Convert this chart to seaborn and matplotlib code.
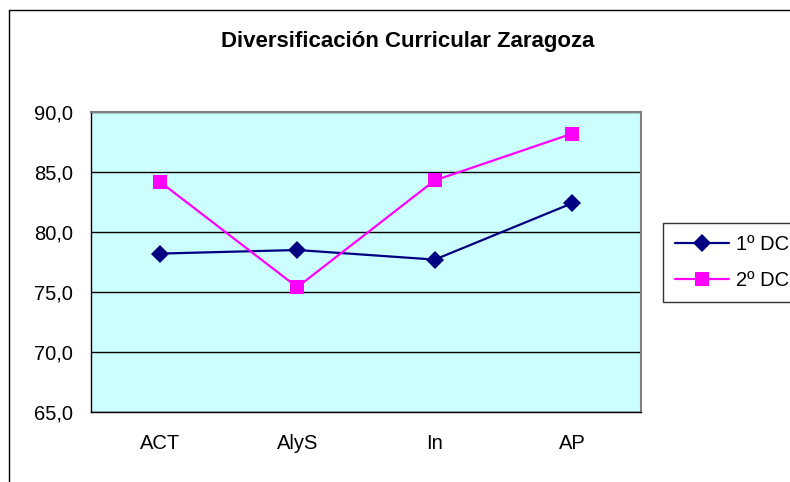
import matplotlib
matplotlib.use("Agg")
import matplotlib.pyplot as plt
from matplotlib.lines import Line2D
from matplotlib.ticker import FixedLocator, FuncFormatter
import seaborn as sns
import pandas as pd

# datos
categorias = ["ACT", "AlyS", "In", "AP"]
dc1 = [78.2, 78.5, 77.7, 82.4]
dc2 = [84.2, 75.4, 84.3, 88.2]
series = ["1º DC", "2º DC"]

df = pd.DataFrame({
    "pos": list(range(len(categorias))) * 2,
    "valor": dc1 + dc2,
    "serie": [series[0]] * len(dc1) + [series[1]] * len(dc2),
})

sns.set_style("white")
plt.rcParams["font.family"] = ["Liberation Sans", "DejaVu Sans"]
plt.rcParams["text.color"] = "black"
plt.rcParams["xtick.color"] = "black"
plt.rcParams["ytick.color"] = "black"

W, H = 790, 482
fig = plt.figure(figsize=(W / 100, H / 100), dpi=100)
ax = fig.add_axes([91 / W, 1 - 412 / H, 550 / W, 300 / H])
ax.set_facecolor("#CCFFFF")

sns.lineplot(data=df, x="pos", y="valor", hue="serie", style="serie",
             palette={series[0]: "#000080", series[1]: "#FF00FF"},
             markers={series[0]: "D", series[1]: "s"},
             dashes=False, markersize=9.5, linewidth=1.6,
             markeredgewidth=0, ax=ax, zorder=3)

ax.set_xlim(-0.5, len(categorias) - 0.5)
ax.set_ylim(65, 90)
ax.set_yticks([65, 70, 75, 80, 85, 90])
ax.yaxis.set_major_formatter(FuncFormatter(lambda v, p: f"{v:.1f}".replace(".", ",")))
ax.grid(axis="y", color="black", linewidth=1)
ax.set_axisbelow(True)

# etiquetas centradas, marcas en los limites de categoria
ax.set_xticks(range(len(categorias)))
ax.set_xticklabels(categorias)
ax.xaxis.set_minor_locator(FixedLocator([i - 0.5 for i in range(len(categorias) + 1)]))
ax.tick_params(axis="x", which="major", length=0, pad=16, labelsize=14.5)
ax.tick_params(axis="x", which="minor", length=5, width=1, color="black", direction="out")
ax.tick_params(axis="y", length=5, width=1, color="black", direction="out", labelsize=14.5, pad=8)
ax.set_xlabel("")
ax.set_ylabel("")

for s in ["top", "right"]:
    ax.spines[s].set_color("#808080")
    ax.spines[s].set_linewidth(1.5)
for s in ["left", "bottom"]:
    ax.spines[s].set_color("black")
    ax.spines[s].set_linewidth(1)

fig.text(408 / W, 1 - 42 / H, "Diversificación Curricular Zaragoza",
         ha="center", va="center", fontsize=16, fontweight="bold")

# borde del area del grafico
fig.add_artist(Line2D([9 / W, 1], [1 - 10 / H, 1 - 10 / H], transform=fig.transFigure,
                      color="black", linewidth=1))
fig.add_artist(Line2D([9 / W, 9 / W], [0, 1 - 10 / H], transform=fig.transFigure,
                      color="black", linewidth=1))

leg = ax.legend(loc="upper left", bbox_to_anchor=(663 / W, 1 - 223 / H),
                bbox_transform=fig.transFigure, frameon=True, fancybox=False,
                fontsize=14.5, handlelength=2.7, borderpad=0.6, labelspacing=0.85,
                handletextpad=0.3, borderaxespad=0)
leg.get_frame().set_edgecolor("black")
leg.get_frame().set_linewidth(1)

fig.savefig("out.png", dpi=100)
